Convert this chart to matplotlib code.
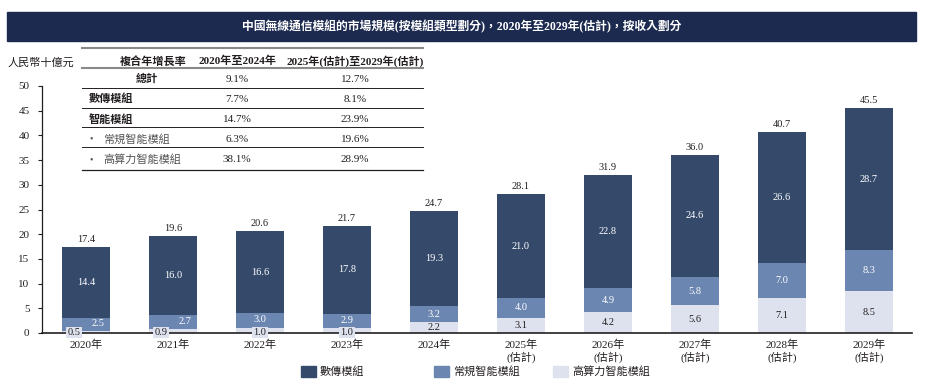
import matplotlib
matplotlib.use("Agg")
import matplotlib.pyplot as plt
from matplotlib.lines import Line2D
from matplotlib.patches import Rectangle

plt.rcParams['font.family'] = ['Liberation Serif', 'Noto Sans CJK TC']

# data
years = ["2020年", "2021年", "2022年", "2023年", "2024年",
         "2025年\n(估計)", "2026年\n(估計)", "2027年\n(估計)", "2028年\n(估計)", "2029年\n(估計)"]
high_compute = [0.5, 0.9, 1.0, 1.0, 2.2, 3.1, 4.2, 5.6, 7.1, 8.5]
regular_smart = [2.5, 2.7, 3.0, 2.9, 3.2, 4.0, 4.9, 5.8, 7.0, 8.3]
data_module = [14.4, 16.0, 16.6, 17.8, 19.3, 21.0, 22.8, 24.6, 26.6, 28.7]
totals = [17.4, 19.6, 20.6, 21.7, 24.7, 28.1, 31.9, 36.0, 40.7, 45.5]

series_names = ["數傳模組", "常規智能模組", "高算力智能模組"]

table_header = ["複合年增長率", "2020年至2024年", "2025年(估計)至2029年(估計)"]
table_rows = ["總計", "數傳模組", "智能模組", "常規智能模組", "高算力智能模組"]
cagr_hist = ["9.1%", "7.7%", "14.7%", "6.3%", "38.1%"]
cagr_fcst = ["12.7%", "8.1%", "23.9%", "19.6%", "28.9%"]

c_dark = "#354a6b"
c_mid = "#6b86b1"
c_light = "#dde2ee"
c_banner = "#1c2a50"
c_text = "#231f20"

W, H = 927, 387
fig = plt.figure(figsize=(W / 100, H / 100), dpi=100)

def fx(px):
    return px / W

def fy(py):
    return 1 - py / H

# title banner
fig.patches.append(Rectangle((fx(7), fy(41)), fx(909), (29) / H, transform=fig.transFigure,
                             color=c_banner, zorder=0))
fig.text(fx(462), fy(26.5), "中國無線通信模組的市場規模(按模組類型劃分)，2020年至2029年(估計)，按收入劃分",
         color="white", fontsize=8.5, fontweight="bold", ha="center", va="center")

# axes
ax = fig.add_axes([fx(42), fy(333), fx(912) - fx(42), (333 - 86) / H])
x = list(range(len(years)))
bw = 0.55
ax.bar(x, high_compute, bw, color=c_light, zorder=2)
ax.bar(x, regular_smart, bw, bottom=high_compute, color=c_mid, zorder=2)
base2 = [a + b for a, b in zip(high_compute, regular_smart)]
ax.bar(x, data_module, bw, bottom=base2, color=c_dark, zorder=2)

ax.set_xlim(-0.506, 9.494)
ax.set_ylim(0, 50)
ax.set_yticks(range(0, 51, 5))
for s in ["top", "right"]:
    ax.spines[s].set_visible(False)
ax.spines["left"].set_color(c_text)
ax.spines["bottom"].set_color(c_text)
ax.spines["left"].set_linewidth(0.9)
ax.spines["bottom"].set_linewidth(1.2)
ax.tick_params(axis="y", length=3, width=0.8, labelsize=8, colors=c_text, pad=6)
ax.set_xticks(x)
ax.set_xticklabels(years, fontsize=8, color=c_text, linespacing=1.15)
ax.tick_params(axis="x", length=0, pad=5)

fs = 7.5
for i in x:
    h = high_compute[i]
    r = regular_smart[i]
    d = data_module[i]
    # data module label
    ax.text(i, base2[i] + d / 2, f"{d:.1f}", color="white", fontsize=fs, ha="center", va="center", zorder=3)
    # totals
    ax.text(i, totals[i] + 0.6, f"{totals[i]:.1f}", color=c_text, fontsize=fs, ha="center", va="bottom", zorder=3)
    if h >= 2:
        ax.text(i, h / 2, f"{h:.1f}", color=c_text, fontsize=fs, ha="center", va="center", zorder=3)
        ax.text(i, h + r / 2, f"{r:.1f}", color="white", fontsize=fs, ha="center", va="center", zorder=3)
    else:
        dx = -0.14 if h < 0.95 else 0.0
        rx = 0.14 if h < 0.95 else 0.0
        ax.text(i + dx, 0.15, f"{h:.1f}", color=c_text, fontsize=fs, ha="center", va="center", zorder=4,
                bbox=dict(boxstyle="square,pad=0.12", fc=c_light, ec="none"))
        ax.text(i + rx, h + r / 2 + 0.15, f"{r:.1f}", color="white", fontsize=fs, ha="center", va="center", zorder=3)

# y unit label
fig.text(fx(8), fy(63), "人民幣十億元", fontsize=8, style="italic", color=c_text, ha="left", va="center")

# CAGR table
tl, tr = fx(82), fx(423)
row_y = [79, 99, 119, 139, 160]
lines = [(48, 1.5, "#8a8a8a"), (68, 1.5, "#8a8a8a"), (88, 0.7, c_text), (108, 0.7, c_text),
         (127, 0.7, c_text), (147, 0.7, c_text), (170, 0.9, c_text)]
for py, lw, col in lines:
    fig.add_artist(Line2D([tl, tr], [fy(py), fy(py)], transform=fig.transFigure, lw=lw, color=col))
fig.patches.append(Rectangle((tl, fy(170)), tr - tl, (170 - 48) / H, transform=fig.transFigure,
                             color="white", zorder=0.5))

fig.text(fx(153), fy(61), table_header[0], fontsize=8, fontweight="bold", ha="center", va="center", color=c_text)
fig.text(fx(237), fy(61), table_header[1], fontsize=8, fontweight="bold", ha="center", va="center", color=c_text)
fig.text(fx(355), fy(61), table_header[2], fontsize=8, fontweight="bold", ha="center", va="center", color=c_text)

for k, name in enumerate(table_rows):
    py = row_y[k]
    if k == 0:
        fig.text(fx(147), fy(py), name, fontsize=8, fontweight="bold", ha="center", va="center", color=c_text)
    elif k < 3:
        fig.text(fx(89), fy(py), name, fontsize=8, fontweight="bold", ha="left", va="center", color=c_text)
    else:
        fig.text(fx(90), fy(py), "•", fontsize=7, ha="left", va="center", color="#555555")
        fig.text(fx(103), fy(py), name, fontsize=8, ha="left", va="center", color="#555555")
    fig.text(fx(237), fy(py), cagr_hist[k], fontsize=8, ha="center", va="center", color=c_text)
    fig.text(fx(355), fy(py), cagr_fcst[k], fontsize=8, ha="center", va="center", color=c_text)

# legend
leg_items = [(301, c_dark, series_names[0]), (434, c_mid, series_names[1]), (553, c_light, series_names[2])]
for px, col, name in leg_items:
    fig.patches.append(Rectangle((fx(px), fy(377)), fx(15), 11 / H, transform=fig.transFigure, color=col))
    fig.text(fx(px + 19), fy(371.5), name, fontsize=8, ha="left", va="center", color=c_text)

fig.savefig("out.png", dpi=100)
